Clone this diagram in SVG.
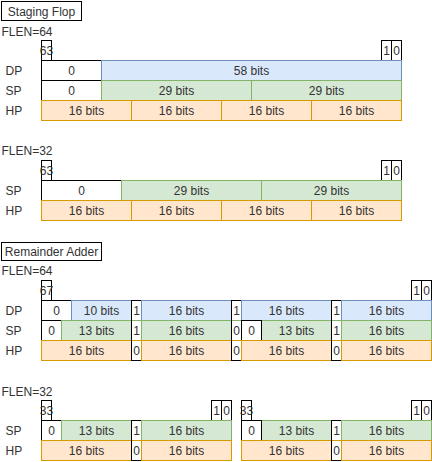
<svg xmlns="http://www.w3.org/2000/svg" width="432" height="462" viewBox="0 0 432 462">
<style>
.b{fill:#dae8fc;stroke:#6c8ebf}
.g{fill:#d5e8d4;stroke:#82b366}
.o{fill:#ffe6cc;stroke:#d79b00}
.w{fill:#ffffff;stroke:#000000}
.wb{fill:#ffffff;stroke:#6c8ebf}
.wg{fill:#ffffff;stroke:#82b366}
.wo{fill:#ffffff;stroke:#d79b00}
.k{fill:none;stroke:#000000}
rect{stroke-width:1}
text{font-family:"Liberation Sans",Arial,Helvetica,sans-serif;font-size:12px;fill:#333333;text-anchor:middle}
.l{text-anchor:start}
</style>
<rect width="432" height="462" fill="#ffffff"/>
<g transform="translate(0.5,0.5)">
<g id="connectors"/>
<!-- Section 1: Staging Flop, FLEN=64 -->
<g id="title-staging"><rect class="w" x="1" y="1" width="80" height="19"/><text x="41" y="15">Staging Flop</text></g>
<g id="s1-flen"><text class="l" x="1" y="35">FLEN=64</text></g>
<g id="s1-b63"><rect class="w" x="41" y="40" width="10" height="20"/><text x="46" y="54">63</text></g>
<g id="s1-b1"><rect class="w" x="381" y="40" width="10" height="20"/><text x="386" y="54">1</text></g>
<g id="s1-b0"><rect class="w" x="391" y="40" width="10" height="20"/><text x="396" y="54">0</text></g>
<g id="s1-dp-label"><text class="l" x="5" y="74">DP</text></g>
<g id="s1-dp-0"><rect class="w" x="41" y="60" width="60" height="20"/><text x="71" y="74">0</text></g>
<g id="s1-dp-58"><rect class="b" x="101" y="60" width="300" height="20"/><text x="251" y="74">58 bits</text></g>
<g id="s1-sp-label"><text class="l" x="5" y="94">SP</text></g>
<g id="s1-sp-0"><rect class="w" x="41" y="80" width="60" height="20"/><text x="71" y="94">0</text></g>
<g id="s1-sp-29a"><rect class="g" x="101" y="80" width="150" height="20"/><text x="176" y="94">29 bits</text></g>
<g id="s1-sp-29b"><rect class="g" x="251" y="80" width="150" height="20"/><text x="326" y="94">29 bits</text></g>
<g id="s1-hp-label"><text class="l" x="5" y="114">HP</text></g>
<g id="s1-hp-1"><rect class="o" x="41" y="100" width="90" height="20"/><text x="86" y="114">16 bits</text></g>
<g id="s1-hp-2"><rect class="o" x="131" y="100" width="90" height="20"/><text x="176" y="114">16 bits</text></g>
<g id="s1-hp-3"><rect class="o" x="221" y="100" width="90" height="20"/><text x="266" y="114">16 bits</text></g>
<g id="s1-hp-4"><rect class="o" x="311" y="100" width="90" height="20"/><text x="356" y="114">16 bits</text></g>
<!-- Section 2: FLEN=32 -->
<g id="s2-flen"><text class="l" x="1" y="154">FLEN=32</text></g>
<g id="s2-b63"><rect class="w" x="41" y="160" width="10" height="20"/><text x="46" y="174">63</text></g>
<g id="s2-b1"><rect class="w" x="381" y="160" width="10" height="20"/><text x="386" y="174">1</text></g>
<g id="s2-b0"><rect class="w" x="391" y="160" width="10" height="20"/><text x="396" y="174">0</text></g>
<g id="s2-sp-label"><text class="l" x="5" y="194">SP</text></g>
<g id="s2-sp-0"><rect class="w" x="41" y="180" width="80" height="20"/><text x="81" y="194">0</text></g>
<g id="s2-sp-29a"><rect class="g" x="121" y="180" width="140" height="20"/><text x="191" y="194">29 bits</text></g>
<g id="s2-sp-29b"><rect class="g" x="261" y="180" width="140" height="20"/><text x="331" y="194">29 bits</text></g>
<g id="s2-hp-label"><text class="l" x="5" y="214">HP</text></g>
<g id="s2-hp-1"><rect class="o" x="41" y="200" width="90" height="20"/><text x="86" y="214">16 bits</text></g>
<g id="s2-hp-2"><rect class="o" x="131" y="200" width="90" height="20"/><text x="176" y="214">16 bits</text></g>
<g id="s2-hp-3"><rect class="o" x="221" y="200" width="90" height="20"/><text x="266" y="214">16 bits</text></g>
<g id="s2-hp-4"><rect class="o" x="311" y="200" width="90" height="20"/><text x="356" y="214">16 bits</text></g>
<!-- Section 3: Remainder Adder, FLEN=64 -->
<g id="title-remainder"><rect class="w" x="1" y="242" width="100" height="18"/><text x="51" y="255">Remainder Adder</text></g>
<g id="s3-flen"><text class="l" x="1" y="274">FLEN=64</text></g>
<g id="s3-b67"><rect class="w" x="41" y="280" width="10" height="20"/><text x="46" y="294">67</text></g>
<g id="s3-b1"><rect class="w" x="411" y="280" width="10" height="20"/><text x="416" y="294">1</text></g>
<g id="s3-b0"><rect class="w" x="421" y="280" width="10" height="20"/><text x="426" y="294">0</text></g>
<g id="s3-dp-label"><text class="l" x="5" y="314">DP</text></g>
<g id="s3-sp-label"><text class="l" x="5" y="334">SP</text></g>
<g id="s3-hp-label"><text class="l" x="5" y="354">HP</text></g>
<g id="s3-dp-0"><rect class="w" x="41" y="300" width="30" height="20"/><text x="56" y="314">0</text></g>
<g id="s3-dp-10"><rect class="b" x="71" y="300" width="60" height="20"/><text x="101" y="314">10 bits</text></g>
<g id="s3-sp-0"><rect class="w" x="41" y="320" width="20" height="20"/><text x="51" y="334">0</text></g>
<g id="s3-sp-13a"><rect class="g" x="61" y="320" width="70" height="20"/><text x="96" y="334">13 bits</text></g>
<g id="s3-hp-1"><rect class="o" x="41" y="340" width="90" height="20"/><text x="86" y="354">16 bits</text></g>
<g id="s3-c1-dp"><rect class="wb" x="131" y="300" width="10" height="20"/><text x="136" y="314">1</text></g>
<g id="s3-c1-sp"><rect class="wg" x="131" y="320" width="10" height="20"/><text x="136" y="334">1</text></g>
<g id="s3-c1-hp"><rect class="wo" x="131" y="340" width="10" height="20"/><text x="136" y="354">0</text></g>
<g id="s3-c1-frame"><rect class="k" x="131" y="300" width="10" height="60"/></g>
<g id="s3-dp-16a"><rect class="b" x="141" y="300" width="90" height="20"/><text x="186" y="314">16 bits</text></g>
<g id="s3-sp-16a"><rect class="g" x="141" y="320" width="90" height="20"/><text x="186" y="334">16 bits</text></g>
<g id="s3-hp-2"><rect class="o" x="141" y="340" width="90" height="20"/><text x="186" y="354">16 bits</text></g>
<g id="s3-c2-dp"><rect class="wb" x="231" y="300" width="10" height="20"/><text x="236" y="314">1</text></g>
<g id="s3-c2-sp"><rect class="wg" x="231" y="320" width="10" height="20"/><text x="236" y="334">0</text></g>
<g id="s3-c2-hp"><rect class="wo" x="231" y="340" width="10" height="20"/><text x="236" y="354">0</text></g>
<g id="s3-c2-frame"><rect class="k" x="231" y="300" width="10" height="60"/></g>
<g id="s3-dp-16b"><rect class="b" x="241" y="300" width="90" height="20"/><text x="286" y="314">16 bits</text></g>
<g id="s3-sp-13b"><rect class="g" x="261" y="320" width="70" height="20"/><text x="296" y="334">13 bits</text></g>
<g id="s3-sp-0b"><rect class="w" x="241" y="320" width="20" height="20"/><text x="251" y="334">0</text></g>
<g id="s3-hp-3"><rect class="o" x="241" y="340" width="90" height="20"/><text x="286" y="354">16 bits</text></g>
<g id="s3-c3-dp"><rect class="wb" x="331" y="300" width="10" height="20"/><text x="336" y="314">1</text></g>
<g id="s3-c3-sp"><rect class="wg" x="331" y="320" width="10" height="20"/><text x="336" y="334">1</text></g>
<g id="s3-c3-hp"><rect class="wo" x="331" y="340" width="10" height="20"/><text x="336" y="354">0</text></g>
<g id="s3-c3-frame"><rect class="k" x="331" y="300" width="10" height="60"/></g>
<g id="s3-dp-16c"><rect class="b" x="341" y="300" width="90" height="20"/><text x="386" y="314">16 bits</text></g>
<g id="s3-sp-16c"><rect class="g" x="341" y="320" width="90" height="20"/><text x="386" y="334">16 bits</text></g>
<g id="s3-hp-4"><rect class="o" x="341" y="340" width="90" height="20"/><text x="386" y="354">16 bits</text></g>
<!-- Section 4: FLEN=32 -->
<g id="s4-flen"><text class="l" x="1" y="395">FLEN=32</text></g>
<g id="s4-b33a"><rect class="w" x="41" y="400" width="10" height="20"/><text x="46" y="414">33</text></g>
<g id="s4-b1a"><rect class="w" x="211" y="400" width="10" height="20"/><text x="216" y="414">1</text></g>
<g id="s4-b0a"><rect class="w" x="221" y="400" width="10" height="20"/><text x="226" y="414">0</text></g>
<g id="s4-b33b"><rect class="w" x="241" y="400" width="10" height="20"/><text x="246" y="414">33</text></g>
<g id="s4-b1b"><rect class="w" x="411" y="400" width="10" height="20"/><text x="416" y="414">1</text></g>
<g id="s4-b0b"><rect class="w" x="421" y="400" width="10" height="20"/><text x="426" y="414">0</text></g>
<g id="s4-sp-label"><text class="l" x="5" y="434">SP</text></g>
<g id="s4-hp-label"><text class="l" x="5" y="454">HP</text></g>
<g id="s4-sp-0a"><rect class="w" x="41" y="420" width="20" height="20"/><text x="51" y="434">0</text></g>
<g id="s4-sp-13a"><rect class="g" x="61" y="420" width="70" height="20"/><text x="96" y="434">13 bits</text></g>
<g id="s4-hp-1"><rect class="o" x="41" y="440" width="90" height="20"/><text x="86" y="454">16 bits</text></g>
<g id="s4-c1-sp"><rect class="wg" x="131" y="420" width="10" height="20"/><text x="136" y="434">1</text></g>
<g id="s4-c1-hp"><rect class="wo" x="131" y="440" width="10" height="20"/><text x="136" y="454">0</text></g>
<g id="s4-c1-frame"><rect class="k" x="131" y="420" width="10" height="40"/></g>
<g id="s4-sp-16a"><rect class="g" x="141" y="420" width="90" height="20"/><text x="186" y="434">16 bits</text></g>
<g id="s4-hp-2"><rect class="o" x="141" y="440" width="90" height="20"/><text x="186" y="454">16 bits</text></g>
<g id="s4-sp-13b"><rect class="g" x="261" y="420" width="70" height="20"/><text x="296" y="434">13 bits</text></g>
<g id="s4-sp-0b"><rect class="w" x="241" y="420" width="20" height="20"/><text x="251" y="434">0</text></g>
<g id="s4-hp-3"><rect class="o" x="241" y="440" width="90" height="20"/><text x="286" y="454">16 bits</text></g>
<g id="s4-c2-sp"><rect class="wg" x="331" y="420" width="10" height="20"/><text x="336" y="434">1</text></g>
<g id="s4-c2-hp"><rect class="wo" x="331" y="440" width="10" height="20"/><text x="336" y="454">0</text></g>
<g id="s4-c2-frame"><rect class="k" x="331" y="420" width="10" height="40"/></g>
<g id="s4-sp-16b"><rect class="g" x="341" y="420" width="90" height="20"/><text x="386" y="434">16 bits</text></g>
<g id="s4-hp-4"><rect class="o" x="341" y="440" width="90" height="20"/><text x="386" y="454">16 bits</text></g>
</g>
</svg>
